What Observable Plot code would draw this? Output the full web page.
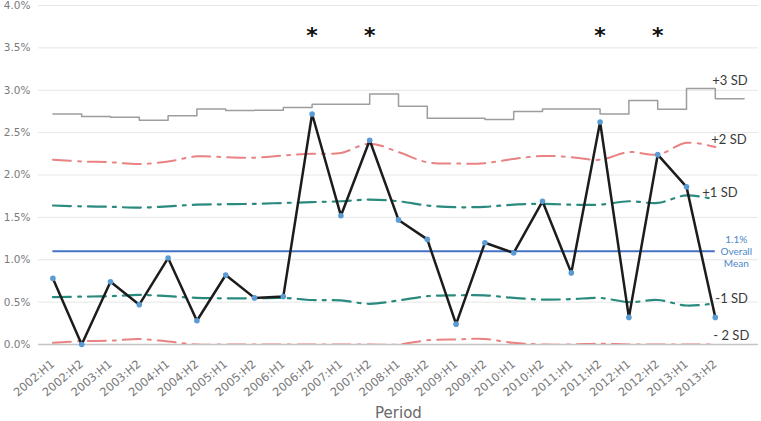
<!DOCTYPE html>
<html><head><meta charset="utf-8">
<script src="https://cdn.jsdelivr.net/npm/d3@7"></script>
<script src="https://cdn.jsdelivr.net/npm/@observablehq/plot@0.6"></script>
<style>body{margin:0;background:#fff}</style>
</head><body><div id="chart"></div>
<script>
const periods = ["2002:H1","2002:H2","2003:H1","2003:H2","2004:H1","2004:H2","2005:H1","2005:H2","2006:H1","2006:H2","2007:H1","2007:H2","2008:H1","2008:H2","2009:H1","2009:H2","2010:H1","2010:H2","2011:H1","2011:H2","2012:H1","2012:H2","2013:H1","2013:H2"];
const rate   = [0.78,0.00,0.74,0.47,1.02,0.28,0.82,0.55,0.565,2.72,1.52,2.41,1.47,1.24,0.24,1.20,1.08,1.69,0.845,2.625,0.32,2.24,1.86,0.32];
const plus3  = [2.72,2.69,2.68,2.645,2.70,2.78,2.76,2.765,2.795,2.835,2.835,2.955,2.81,2.67,2.67,2.655,2.75,2.78,2.78,2.72,2.88,2.775,3.02,2.90];
const plus2  = [2.18,2.16,2.15,2.13,2.16,2.22,2.21,2.205,2.23,2.25,2.26,2.37,2.27,2.15,2.135,2.14,2.19,2.225,2.21,2.18,2.27,2.24,2.38,2.33];
const plus1  = [1.64,1.63,1.625,1.615,1.63,1.65,1.655,1.66,1.67,1.68,1.69,1.71,1.69,1.64,1.62,1.625,1.65,1.66,1.65,1.65,1.69,1.67,1.76,1.71];
const minus1 = [0.56,0.565,0.57,0.585,0.57,0.55,0.545,0.545,0.55,0.525,0.52,0.48,0.52,0.57,0.58,0.58,0.55,0.53,0.535,0.55,0.50,0.525,0.46,0.485];
const minus2 = [0.02,0.04,0.045,0.065,0.035,0,0,0,0,0,0,0,0,0.05,0.06,0.065,0.02,0,0,0.01,0,0,0,0];
const overallMean = 1.1;
const flagged = ["2006:H2","2007:H2","2011:H2","2012:H2"];
const yTicks = [0,0.5,1,1.5,2,2.5,3,3.5,4];
const xTitle = "Period";

const idx = periods.map((p, i) => i);
const last = periods.length - 1;
const series = arr => arr.map((v, i) => ({i, v}));
// step line: last step extends one period beyond the final point
const plus3Steps = [...series(plus3), {i: periods.length, v: plus3[last]}];

const ddash = "18,7,3,7";
const lbl = (text, y, dx, dy, opts = {}) =>
  Plot.text([0], {x: () => last, y: () => y, text: () => text, dx, dy, textAnchor: "start",
    fontSize: 13, fill: "#3a3a3a", fontFamily: "Lato", ...opts});

const chart = Plot.plot({
  width: 761, height: 421,
  marginLeft: 38, marginRight: 3, marginTop: 5, marginBottom: 77,
  style: {fontFamily: "DejaVu Sans", fontSize: "10px", color: "#7a7a7a", background: "#fff"},
  x: {type: "linear", domain: [-0.5, 24.5]},
  y: {domain: [0, 4]},
  marks: [
    Plot.ruleY(yTicks, {stroke: "#e6e6e6", strokeWidth: 1}),
    Plot.ruleY([0], {stroke: "#c4c4c4", strokeWidth: 1.5}),
    Plot.axisY({ticks: yTicks, tickFormat: d => d.toFixed(1) + "%", tickSize: 0, tickPadding: 8, label: null,
      fontFamily: "DejaVu Sans", fontSize: 10.5}),
    Plot.axisX({ticks: idx, tickFormat: i => periods[i], tickSize: 0, tickPadding: 18, tickRotate: -40,
      fontFamily: "DejaVu Sans", fontSize: 11.5, label: null}),
    Plot.text([xTitle], {frameAnchor: "bottom", dy: 73, text: d => d, fontSize: 15, fill: "#6a6a6a", fontFamily: "DejaVu Sans"}),
    Plot.lineY(plus3Steps, {x: "i", y: "v", curve: "step-after", stroke: "#9d9d9d", strokeWidth: 1.5}),
    Plot.lineY(series(plus2), {x: "i", y: "v", curve: "catmull-rom", stroke: "#e98383", strokeWidth: 2, strokeDasharray: ddash}),
    Plot.lineY(series(minus2), {x: "i", y: "v", curve: "catmull-rom", stroke: "#e98383", strokeWidth: 2, strokeDasharray: ddash, clip: true}),
    Plot.lineY(series(plus1), {x: "i", y: "v", curve: "catmull-rom", stroke: "#2a8a7e", strokeWidth: 2.2, strokeDasharray: ddash}),
    Plot.lineY(series(minus1), {x: "i", y: "v", curve: "catmull-rom", stroke: "#2a8a7e", strokeWidth: 2.2, strokeDasharray: ddash}),
    Plot.ruleY([overallMean], {x1: 0, x2: last, stroke: "#4472c4", strokeWidth: 2}),
    Plot.lineY(series(rate), {x: "i", y: "v", stroke: "#1c1c1c", strokeWidth: 2.5}),
    Plot.dot(series(rate), {x: "i", y: "v", r: 2.8, fill: "#5b9bd5", stroke: "none"}),
    Plot.text(flagged, {x: d => periods.indexOf(d), frameAnchor: "top", dy: 30, text: () => "*",
      fontSize: 22, fontWeight: "bold", fill: "#111", fontFamily: "DejaVu Sans", lineAnchor: "middle"}),
    lbl("+3 SD", plus3[last], -3, -17.5),
    lbl("+2 SD", plus2[last], -4, -7),
    lbl("+1 SD", plus1[last], -13, -7),
    lbl("-1 SD", minus1[last], 0, -5),
    lbl("- 2 SD", minus2[last], -2, -9),
    Plot.text([0], {x: () => last, y: () => overallMean, text: () => `${overallMean}%\nOverall\nMean`,
      dx: 21, dy: 0, textAnchor: "middle", lineHeight: 1.2, fontSize: 10, fill: "#4a86c8", fontFamily: "Lato"})
  ]
});
document.getElementById("chart").appendChild(chart);
</script>
</body></html>
